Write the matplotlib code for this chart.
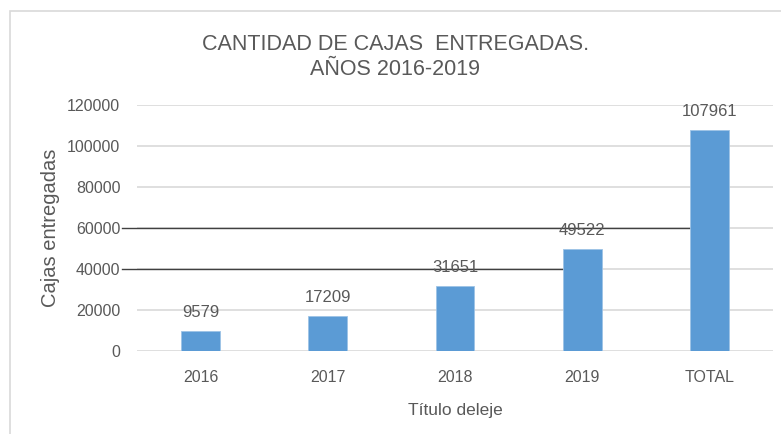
import matplotlib.pyplot as plt
from matplotlib.patches import Rectangle

categories = ["2016", "2017", "2018", "2019", "TOTAL"]
values = [9579, 17209, 31651, 49522, 107961]
yticks = [0, 20000, 40000, 60000, 80000, 100000, 120000]

# dark stray lines: (y value, index of bar where the line stops)
stray_lines = [(60000, 4), (40000, 3)]

plt.rcParams['font.family'] = ['Liberation Sans', 'DejaVu Sans']
txt = '#595959'

fig = plt.figure(figsize=(7.81, 4.34), dpi=100)
ax = fig.add_axes([137 / 781, 83 / 434, 636 / 781, 246 / 434])

# chart frame
fig.patches.append(Rectangle((10 / 781, -0.1), 1.2, 0.1 + 423 / 434, transform=fig.transFigure,
                             fill=False, edgecolor='#D9D9D9', linewidth=1.2))

x = list(range(len(categories)))
bw = 0.306
bars = ax.bar(x, values, width=bw, color='#5B9BD5', edgecolor='#9DC3E6', linewidth=0.6, zorder=3)

for xi, v in zip(x, values):
    ax.annotate(str(v), (xi, v), xytext=(0, 8), textcoords='offset points',
                ha='center', va='bottom', fontsize=12, color=txt, zorder=4)

for yv, idx in stray_lines:
    ax.plot([-0.62, idx - bw / 2], [yv, yv], color='#404040', linewidth=1.0, zorder=2, clip_on=False)

ax.set_xlim(-0.5, len(categories) - 0.5)
ax.set_ylim(0, 120000)
ax.set_yticks(yticks)
ax.set_yticklabels([str(t) for t in yticks])
ax.set_xticks(x)
ax.set_xticklabels(categories)
ax.tick_params(axis='both', length=0, labelsize=11.5, colors=txt)
ax.tick_params(axis='y', pad=12)
ax.tick_params(axis='x', pad=14)
ax.grid(axis='y', color='#D9D9D9', linewidth=1.2, zorder=0)
ax.set_axisbelow(True)
for s in ax.spines.values():
    s.set_visible(False)

ax.set_ylabel("Cajas entregadas", fontsize=14.5, color=txt, labelpad=5)
ax.set_xlabel("Título deleje", fontsize=12.5, color=txt, labelpad=13)
fig.text(0.5 + 10 / 781 / 2, 1 - 57 / 434, "CANTIDAD DE CAJAS  ENTREGADAS.\nAÑOS 2016-2019",
         ha='center', va='center', fontsize=15.5, color=txt, linespacing=1.25)

fig.savefig("out.png", dpi=100)
